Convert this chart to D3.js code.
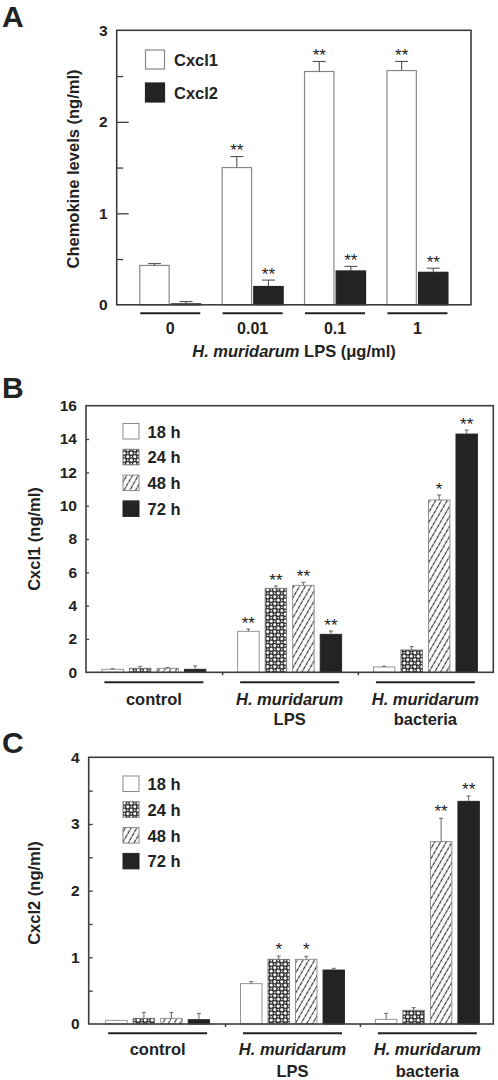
<!DOCTYPE html>
<html><head><meta charset="utf-8">
<script src="https://cdn.jsdelivr.net/npm/d3@7"></script>
<style>
body{margin:0;background:#fff;}
svg text{font-family:"Liberation Sans",Arial,sans-serif;fill:#222;}
</style></head>
<body>
<script>
// ---------- Panel A data ----------
const doseLabels = ["0", "0.01", "0.1", "1"];
const seriesA = ["Cxcl1", "Cxcl2"];
const cxcl1A = [0.43, 1.50, 2.55, 2.56];
const cxcl1AErr = [0.02, 0.12, 0.11, 0.10];
const cxcl2A = [0.01, 0.20, 0.37, 0.355];
const cxcl2AErr = [0.025, 0.07, 0.05, 0.045];
const cxcl1ASig = ["", "**", "**", "**"];
const cxcl2ASig = ["", "**", "**", "**"];
const yTicksA = [0, 1, 2, 3];

// ---------- Panels B/C shared ----------
const groupKeys = ["control", "LPS", "bacteria"];
const groupLine1 = ["control", "H. muridarum", "H. muridarum"];
const groupLine2 = ["", "LPS", "bacteria"];
const times = ["18 h", "24 h", "48 h", "72 h"];

// ---------- Panel B data (Cxcl1) ----------
const cxcl1_18h = [0.18, 2.46, 0.32];
const cxcl1_24h = [0.24, 5.04, 1.34];
const cxcl1_48h = [0.24, 5.22, 10.34];
const cxcl1_72h = [0.18, 2.28, 14.30];
const cxcl1_18hErr = [0.04, 0.14, 0.05];
const cxcl1_24hErr = [0.12, 0.14, 0.20];
const cxcl1_48hErr = [0.04, 0.18, 0.30];
const cxcl1_72hErr = [0.20, 0.20, 0.24];
const cxcl1_18hSig = ["", "**", ""];
const cxcl1_24hSig = ["", "**", ""];
const cxcl1_48hSig = ["", "**", "*"];
const cxcl1_72hSig = ["", "**", "**"];
const yTicksB = [0, 2, 4, 6, 8, 10, 12, 14, 16];

// ---------- Panel C data (Cxcl2) ----------
const cxcl2_18h = [0.055, 0.605, 0.07];
const cxcl2_24h = [0.085, 0.97, 0.205];
const cxcl2_48h = [0.085, 0.97, 2.735];
const cxcl2_72h = [0.065, 0.81, 3.34];
const cxcl2_18hErr = [0.0, 0.03, 0.09];
const cxcl2_24hErr = [0.09, 0.05, 0.04];
const cxcl2_48hErr = [0.09, 0.045, 0.35];
const cxcl2_72hErr = [0.095, 0.025, 0.08];
const cxcl2_18hSig = ["", "", ""];
const cxcl2_24hSig = ["", "*", ""];
const cxcl2_48hSig = ["", "*", "**"];
const cxcl2_72hSig = ["", "", "**"];
const yTicksC = [0, 1, 2, 3, 4];
const yMinorC = [0.5, 1.5, 2.5, 3.5];

const FONT = '"Liberation Sans",Arial,sans-serif';
const FRAME = "#3d3d3d", DARK = "#232323";

const svg = d3.select("body").append("svg").attr("width", 498).attr("height", 1080);
const defs = svg.append("defs");

// checker/dot pattern for 24 h
const p24 = defs.append("pattern").attr("id", "p24").attr("patternUnits", "userSpaceOnUse")
  .attr("width", 7).attr("height", 7);
p24.append("rect").attr("width", 7).attr("height", 7).attr("fill", "#3a3a3a");
p24.append("circle").attr("cx", 1.75).attr("cy", 1.75).attr("r", 1.45).attr("fill", "#fff");
p24.append("circle").attr("cx", 5.25).attr("cy", 5.25).attr("r", 1.45).attr("fill", "#fff");
p24.append("rect").attr("x", 4.5).attr("y", 1.0).attr("width", 1.5).attr("height", 1.5).attr("fill", "#ddd");
p24.append("rect").attr("x", 1.0).attr("y", 4.5).attr("width", 1.5).attr("height", 1.5).attr("fill", "#ddd");

// diagonal hatch for 48 h
const p48 = defs.append("pattern").attr("id", "p48").attr("patternUnits", "userSpaceOnUse")
  .attr("width", 5).attr("height", 5).attr("patternTransform", "rotate(30)");
p48.append("rect").attr("width", 5).attr("height", 5).attr("fill", "#fff");
p48.append("line").attr("x1", 2.5).attr("x2", 2.5).attr("y1", 0).attr("y2", 5)
  .attr("stroke", "#333").attr("stroke-width", 1.2).attr("stroke-dasharray", "3.5,0.8");

const timeFill = ["#fff", "url(#p24)", "url(#p48)", DARK];
const timeStroke = ["#8a8a8a", "#777", "#888", DARK];

function txt(g, x, y, s, size, opts = {}) {
  return g.append("text").attr("x", x).attr("y", y).text(s)
    .attr("font-size", size).attr("font-weight", opts.weight || "bold")
    .attr("text-anchor", opts.anchor || "start")
    .attr("font-style", opts.style || "normal");
}

function frame(g, x0, x1, y0, y1) {
  g.append("rect").attr("x", x0).attr("y", y0).attr("width", x1 - x0).attr("height", y1 - y0)
    .attr("fill", "none").attr("stroke", FRAME).attr("stroke-width", 1.6);
}

function yAxis(g, y, left, ticks, tickLen, minor, minorLen, labelSize) {
  const lab = g.append("g").attr("transform", `translate(${left},0)`)
    .call(d3.axisLeft(y).tickValues(ticks).tickSize(0).tickPadding(9).tickFormat(d3.format("d")));
  lab.select(".domain").remove();
  lab.selectAll("text").attr("font-size", labelSize).attr("font-weight", "bold")
    .attr("font-family", FONT).attr("fill", "#222");
  const t = g.append("g").attr("transform", `translate(${left},0)`)
    .call(d3.axisRight(y).tickValues(ticks.slice(1, -1)).tickSize(tickLen).tickFormat(""));
  t.select(".domain").remove();
  t.selectAll("line").attr("stroke", FRAME).attr("stroke-width", 1.3);
  if (minor) {
    const m = g.append("g").attr("transform", `translate(${left},0)`)
      .call(d3.axisRight(y).tickValues(minor).tickSize(minorLen).tickFormat(""));
    m.select(".domain").remove();
    m.selectAll("line").attr("stroke", FRAME).attr("stroke-width", 1.3);
  }
}

function errBar(g, cx, yTop, yErr, cap, color) {
  if (yTop - yErr < 0.5) return;
  g.append("line").attr("x1", cx).attr("x2", cx).attr("y1", yTop).attr("y2", yErr)
    .attr("stroke", color).attr("stroke-width", 1);
  g.append("line").attr("x1", cx - cap / 2).attr("x2", cx + cap / 2).attr("y1", yErr).attr("y2", yErr)
    .attr("stroke", color).attr("stroke-width", 1);
}

// ================= Panel A =================
(function () {
  const g = svg.append("g");
  const L = 116.7, R = 471, T = 30.3, B = 304.8;
  const y = d3.scaleLinear().domain([0, 3]).range([B, T]);
  const x = d3.scalePoint().domain(doseLabels).range([L, R]).padding(0.65);
  const xi = d3.scaleBand().domain(seriesA).range([-30.5, 30.5]).paddingInner(0.07);
  const vals = [cxcl1A, cxcl2A], errs = [cxcl1AErr, cxcl2AErr], sigs = [cxcl1ASig, cxcl2ASig];
  const fills = ["#fff", DARK], strokes = ["#888", DARK];

  seriesA.forEach((s, si) => {
    doseLabels.forEach((d, di) => {
      const bx = x(d) + xi(s), bw = xi.bandwidth();
      const v = vals[si][di], e = errs[si][di];
      g.append("rect").attr("x", bx).attr("y", y(v)).attr("width", bw).attr("height", B - y(v))
        .attr("fill", fills[si]).attr("stroke", strokes[si]).attr("stroke-width", 1.2);
      errBar(g, bx + bw / 2, y(v), y(v + e), 13, "#444");
      if (sigs[si][di]) txt(g, bx + bw / 2, y(v + e) - 0.5, sigs[si][di], 17, { anchor: "middle", weight: "normal" });
    });
  });
  frame(g, L, R, T, B);
  yAxis(g, y, L, yTicksA, 12, [0.5, 1.5, 2.5], 6.5, 15.5);

  doseLabels.forEach(d => {
    g.append("line").attr("x1", x(d) - 30).attr("x2", x(d) + 30).attr("y1", 313.3).attr("y2", 313.3)
      .attr("stroke", "#222").attr("stroke-width", 2);
    txt(g, x(d), 334.3, d, 16, { anchor: "middle" });
  });
  const t = g.append("text").attr("x", 294).attr("y", 357).attr("text-anchor", "middle")
    .attr("font-size", 16.5).attr("font-weight", "bold");
  t.append("tspan").attr("font-style", "italic").text("H. muridarum");
  t.append("tspan").text(" LPS (μg/ml)");
  txt(g, 0, 0, "Chemokine levels (ng/ml)", 16.5, { anchor: "middle" })
    .attr("transform", "translate(78.5,169) rotate(-90)");
  txt(g, 2, 27, "A", 30);

  // legend
  const lg = [["Cxcl1", "#fff", "#888", 50], ["Cxcl2", DARK, DARK, 83]];
  lg.forEach(([n, f, s, yy]) => {
    g.append("rect").attr("x", 145.5).attr("y", yy).attr("width", 19).attr("height", 19)
      .attr("fill", f).attr("stroke", s).attr("stroke-width", 1.2);
    txt(g, 174, yy + 15.5, n, 16.5);
  });
})();

// ================= Panels B & C =================
function timePanel(cfg) {
  const g = svg.append("g");
  const { L, R, T, B, yMax } = cfg;
  const y = d3.scaleLinear().domain([0, yMax]).range([B, T]);
  const x = d3.scaleBand().domain(groupKeys).range([L, R]).padding(0);
  const xi = d3.scaleBand().domain(times).range([-52, 52]).paddingInner(0.22).paddingOuter(0);

  times.forEach((tm, ti) => {
    groupKeys.forEach((gk, gi) => {
      const cx = x(gk) + x.bandwidth() / 2 + cfg.shift;
      const bx = cx + xi(tm), bw = xi.bandwidth();
      const v = cfg.vals[ti][gi], e = cfg.errs[ti][gi];
      g.append("rect").attr("x", bx).attr("y", y(v)).attr("width", bw).attr("height", B - y(v))
        .attr("fill", timeFill[ti]).attr("stroke", timeStroke[ti]).attr("stroke-width", 0.9);
      errBar(g, bx + bw / 2, y(v), y(v + e), 4, "#666");
      const sg = cfg.sigs[ti][gi];
      if (sg) txt(g, bx + bw / 2, y(v + e) - cfg.starGap, sg, 17, { anchor: "middle", weight: "normal" });
    });
  });
  frame(g, L, R, T, B);
  yAxis(g, y, L, cfg.ticks, cfg.tickLen, cfg.minor, cfg.tickLen, 15.5);
  // group divider ticks
  groupKeys.slice(1).forEach(gk => {
    g.append("line").attr("x1", x(gk) + cfg.divShift).attr("x2", x(gk) + cfg.divShift)
      .attr("y1", B).attr("y2", B + 3).attr("stroke", FRAME).attr("stroke-width", 1.5);
  });
  groupKeys.forEach((gk, gi) => {
    const cx = x(gk) + x.bandwidth() / 2 + cfg.shift;
    g.append("line").attr("x1", cx - 49.5).attr("x2", cx + 49.5).attr("y1", cfg.lineY).attr("y2", cfg.lineY)
      .attr("stroke", "#222").attr("stroke-width", 2);
    txt(g, cx, cfg.lab1Y, groupLine1[gi], 16.5, { anchor: "middle", style: gi === 0 ? "normal" : "italic" });
    if (groupLine2[gi]) txt(g, cx, cfg.lab2Y, groupLine2[gi], 16.5, { anchor: "middle" });
  });
  txt(g, 0, 0, cfg.title, 16.5, { anchor: "middle" })
    .attr("transform", `translate(${cfg.titleX},${cfg.titleY}) rotate(-90)`);
  txt(g, 2, cfg.letterY, cfg.letter, 30);
  // legend
  times.forEach((tm, ti) => {
    const yy = cfg.legY + ti * cfg.legStep;
    g.append("rect").attr("x", 123).attr("y", yy).attr("width", 16).attr("height", 15.5)
      .attr("fill", timeFill[ti]).attr("stroke", timeStroke[ti]).attr("stroke-width", 1);
    txt(g, 147.5, yy + 14, tm, 16.5);
  });
}

timePanel({
  L: 86, R: 493.3, T: 405.7, B: 672.3, yMax: 16, shift: 0, divShift: 0.8,
  vals: [cxcl1_18h, cxcl1_24h, cxcl1_48h, cxcl1_72h],
  errs: [cxcl1_18hErr, cxcl1_24hErr, cxcl1_48hErr, cxcl1_72hErr],
  sigs: [cxcl1_18hSig, cxcl1_24hSig, cxcl1_48hSig, cxcl1_72hSig],
  ticks: yTicksB, minor: null, tickLen: 3, starGap: 0,
  lineY: 682.3, lab1Y: 705, lab2Y: 725,
  title: "Cxcl1 (ng/ml)", titleX: 40, titleY: 539, letter: "B", letterY: 398,
  legY: 423.5, legStep: 25.8
});

timePanel({
  L: 88.7, R: 493.3, T: 757.3, B: 1024, yMax: 4, shift: 1.5, divShift: 2,
  vals: [cxcl2_18h, cxcl2_24h, cxcl2_48h, cxcl2_72h],
  errs: [cxcl2_18hErr, cxcl2_24hErr, cxcl2_48hErr, cxcl2_72hErr],
  sigs: [cxcl2_18hSig, cxcl2_24hSig, cxcl2_48hSig, cxcl2_72hSig],
  ticks: yTicksC, minor: yMinorC, tickLen: 4, starGap: 1,
  lineY: 1033.3, lab1Y: 1055, lab2Y: 1076.5,
  title: "Cxcl2 (ng/ml)", titleX: 40, titleY: 893, letter: "C", letterY: 753,
  legY: 776, legStep: 25.8
});
</script>
</body></html>
